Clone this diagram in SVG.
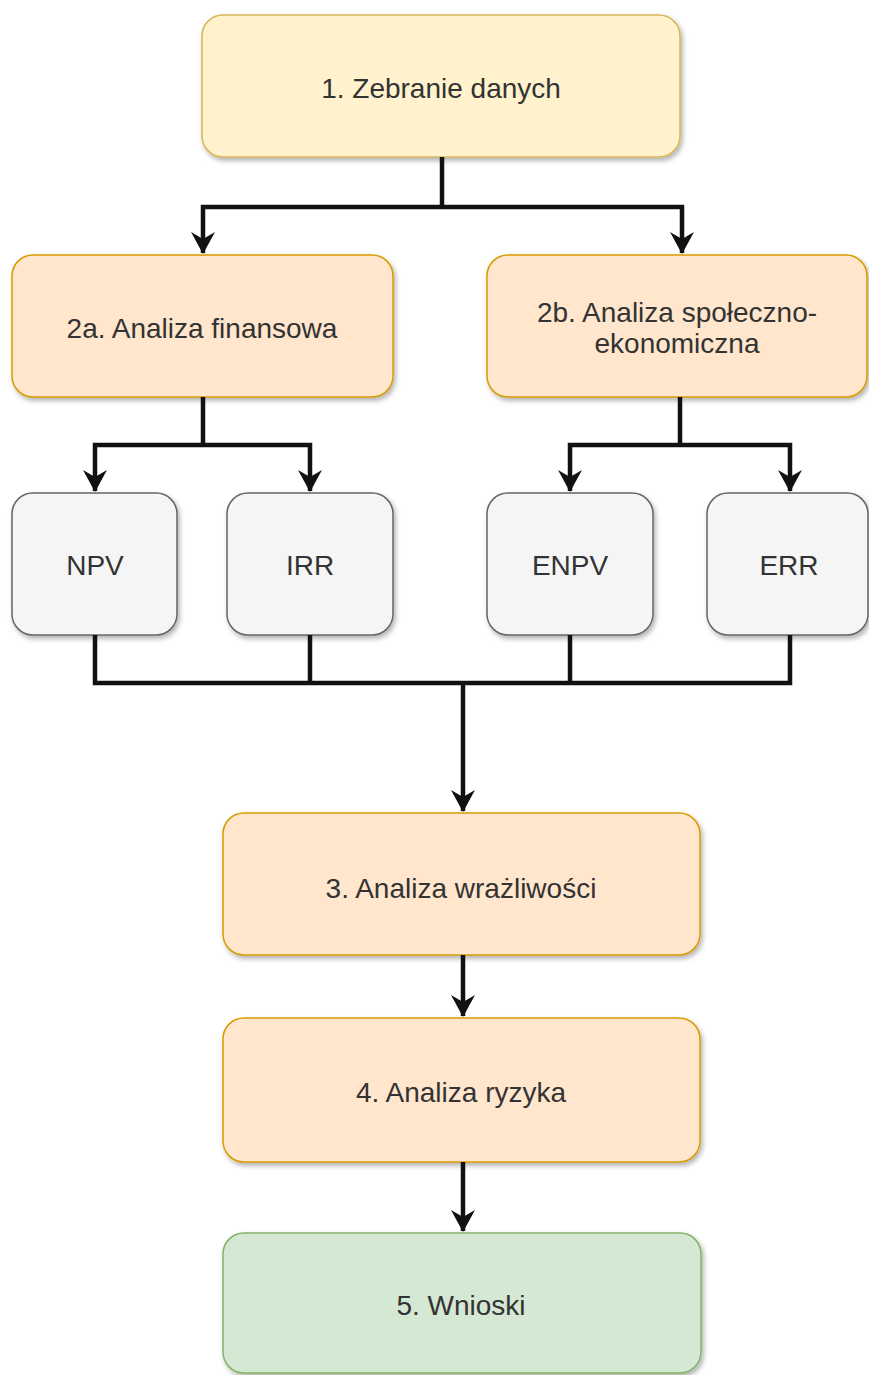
<svg xmlns="http://www.w3.org/2000/svg" width="869" height="1375" viewBox="0 0 869 1375">
<style>
.box{stroke-width:1.5;filter:url(#sh)}
.y{fill:#fff2cc;stroke:#d6b656}
.o{fill:#ffe6cc;stroke:#d79b00}
.g{fill:#f5f5f5;stroke:#666666}
.gr{fill:#d5e8d4;stroke:#82b366}
.t{font-family:"Liberation Sans",Arial,sans-serif;font-size:28px;fill:#333333;text-anchor:middle}
.c{fill:none;stroke:#111111;stroke-width:4.5;stroke-linejoin:miter}
</style>
<defs>
<filter id="sh" x="-10%" y="-10%" width="130%" height="130%">
<feDropShadow dx="2" dy="3" stdDeviation="2.5" flood-color="#000000" flood-opacity="0.3"/>
</filter>
<marker id="ah" viewBox="0 0 22 24" refX="21" refY="12" markerWidth="22" markerHeight="24" markerUnits="userSpaceOnUse" orient="auto">
<path d="M0,0 L22,12 L0,24 L7,12 Z" fill="#111111"/>
</marker>
</defs>
<g id="n1"><rect class="box y" x="202" y="15" width="478" height="142" rx="21"/><text class="t" x="441" y="98">1. Zebranie danych</text></g>
<g id="n2a"><rect class="box o" x="12" y="255" width="381" height="142" rx="21"/><text class="t" x="202" y="338">2a. Analiza finansowa</text></g>
<g id="n2b"><rect class="box o" x="487" y="255" width="380" height="142" rx="21"/><text class="t" x="677" y="322">2b. Analiza społeczno-</text><text class="t" x="677" y="353">ekonomiczna</text></g>
<g id="npv"><rect class="box g" x="12" y="493" width="165" height="142" rx="21"/><text class="t" x="95" y="575">NPV</text></g>
<g id="irr"><rect class="box g" x="227" y="493" width="166" height="142" rx="21"/><text class="t" x="310" y="575">IRR</text></g>
<g id="enpv"><rect class="box g" x="487" y="493" width="166" height="142" rx="21"/><text class="t" x="570" y="575">ENPV</text></g>
<g id="err"><rect class="box g" x="707" y="493" width="161" height="142" rx="21"/><text class="t" x="789" y="575">ERR</text></g>
<g id="n3"><rect class="box o" x="223" y="813" width="477" height="142" rx="21"/><text class="t" x="461" y="898">3. Analiza wrażliwości</text></g>
<g id="n4"><rect class="box o" x="223" y="1018" width="477" height="144" rx="21"/><text class="t" x="461" y="1102">4. Analiza ryzyka</text></g>
<g id="n5"><rect class="box gr" x="223" y="1233" width="478" height="140" rx="21"/><text class="t" x="461" y="1315">5. Wnioski</text></g>
<g id="connectors">
<path class="c" d="M442,157 V207"/>
<path class="c" d="M442,207 H203 V253" marker-end="url(#ah)"/>
<path class="c" d="M442,207 H682 V253" marker-end="url(#ah)"/>
<path class="c" d="M203,397 V445"/>
<path class="c" d="M203,445 H95 V491" marker-end="url(#ah)"/>
<path class="c" d="M203,445 H310 V491" marker-end="url(#ah)"/>
<path class="c" d="M680,397 V445"/>
<path class="c" d="M680,445 H570 V491" marker-end="url(#ah)"/>
<path class="c" d="M680,445 H790 V491" marker-end="url(#ah)"/>
<path class="c" d="M95,635 V683 H790 V635"/>
<path class="c" d="M310,635 V683"/>
<path class="c" d="M570,635 V683"/>
<path class="c" d="M463,683 V811" marker-end="url(#ah)"/>
<path class="c" d="M463,955 V1016" marker-end="url(#ah)"/>
<path class="c" d="M463,1162 V1231" marker-end="url(#ah)"/>
</g>
</svg>
